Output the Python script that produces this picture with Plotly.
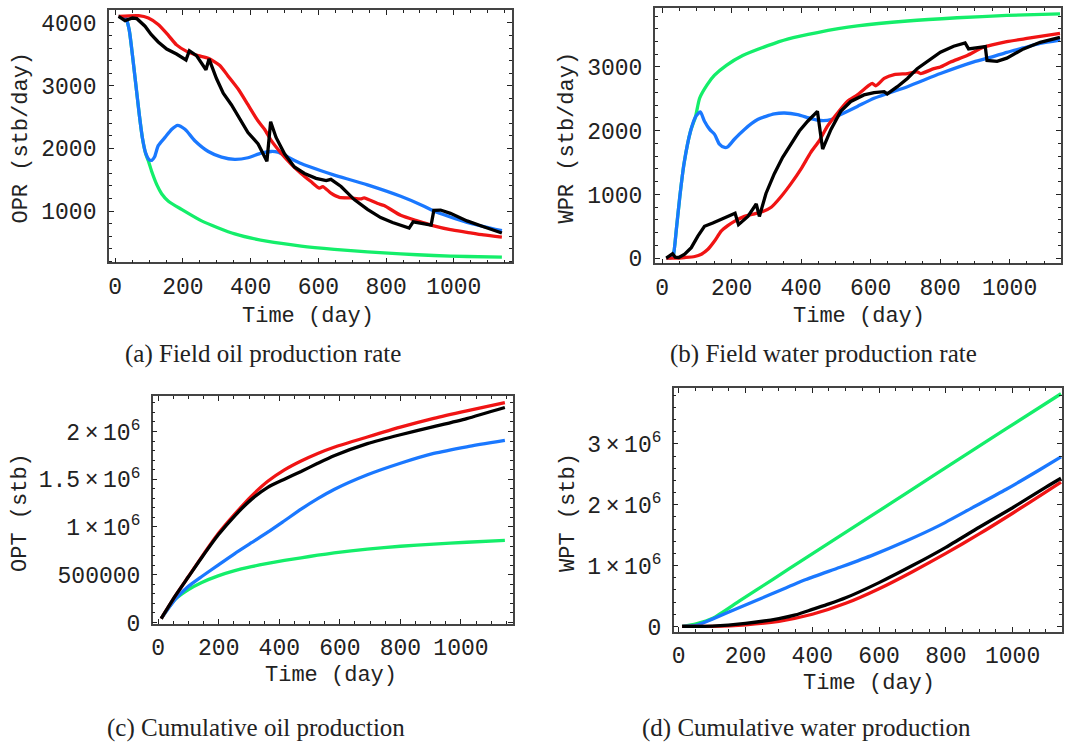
import plotly.graph_objects as go

# ---------------- (a) field oil production rate, stb/day ----------------
opr_t_green = [10, 31, 41, 51, 61, 71, 80, 90, 98, 108, 123, 137, 157, 196, 255, 353, 451, 549, 647, 745, 843, 941, 1039, 1142]
opr_green = [4104, 4078, 3896, 3478, 3009, 2539, 2174, 1913, 1798, 1626, 1417, 1277, 1157, 1026, 843, 635, 515, 442, 390, 348, 317, 291, 275, 264]

opr_t_blue = [10, 31, 41, 51, 61, 71, 80, 90, 100, 108, 116, 127, 147, 167, 184, 206, 235, 275, 314, 353, 392, 431, 461, 480, 510, 549, 608, 647, 745, 843, 912, 941, 1039, 1142]
opr_blue = [4104, 4078, 3896, 3478, 3009, 2539, 2174, 1923, 1819, 1809, 1861, 2043, 2174, 2304, 2367, 2304, 2122, 1950, 1861, 1824, 1850, 1923, 1950, 1939, 1861, 1757, 1642, 1574, 1417, 1235, 1078, 1000, 817, 687]

opr_t_red = [10, 69, 98, 127, 157, 181, 211, 245, 275, 309, 333, 363, 392, 422, 441, 461, 490, 520, 549, 578, 603, 613, 637, 662, 696, 725, 735, 775, 794, 843, 892, 941, 990, 1039, 1088, 1142]
opr_red = [4104, 4115, 4078, 3974, 3802, 3650, 3546, 3478, 3437, 3322, 3155, 2946, 2696, 2435, 2304, 2122, 1923, 1746, 1600, 1470, 1365, 1391, 1287, 1219, 1209, 1193, 1209, 1120, 1089, 932, 843, 765, 703, 661, 619, 583]

opr_t_black = [10, 29, 51, 64, 88, 106, 127, 152, 181, 209, 219, 240, 268, 277, 299, 319, 343, 368, 392, 422, 448, 459, 475, 500, 529, 559, 593, 623, 637, 667, 706, 745, 784, 819, 868, 880, 926, 933, 941, 961, 990, 1039, 1088, 1142]
opr_black = [4104, 4037, 4078, 4068, 3948, 3817, 3697, 3583, 3504, 3410, 3557, 3478, 3254, 3426, 3113, 2878, 2696, 2461, 2252, 2070, 1793, 2424, 2174, 1913, 1704, 1600, 1522, 1485, 1506, 1391, 1183, 1026, 896, 817, 729, 828, 781, 776, 1010, 1016, 963, 843, 750, 650]

# ---------------- (b) field water production rate, stb/day ----------------
wpr_t_green = [12, 27, 32, 41, 51, 63, 82, 96, 108, 129, 151, 185, 232, 304, 361, 447, 562, 706, 849, 992, 1145]
wpr_green = [0, 10, 36, 448, 964, 1479, 1995, 2215, 2510, 2716, 2871, 3026, 3180, 3335, 3438, 3541, 3644, 3722, 3773, 3809, 3835]

wpr_t_blue = [12, 27, 32, 41, 51, 63, 82, 96, 110, 122, 137, 151, 165, 180, 189, 208, 237, 275, 323, 352, 390, 428, 457, 486, 514, 562, 610, 706, 801, 897, 944, 992, 1040, 1088, 1145]
wpr_blue = [0, 10, 36, 448, 964, 1479, 1995, 2215, 2294, 2149, 2021, 1943, 1789, 1737, 1747, 1866, 2021, 2175, 2263, 2278, 2253, 2191, 2160, 2175, 2253, 2381, 2510, 2691, 2897, 3080, 3150, 3230, 3300, 3370, 3423]

wpr_t_red = [12, 36, 65, 94, 113, 132, 151, 170, 189, 208, 237, 266, 290, 314, 342, 371, 400, 428, 452, 476, 505, 533, 562, 596, 605, 615, 639, 668, 706, 734, 744, 782, 801, 830, 878, 925, 992, 1050, 1145]
wpr_red = [0, 0, 10, 26, 62, 139, 268, 423, 510, 577, 655, 696, 732, 799, 964, 1170, 1402, 1660, 1840, 2072, 2278, 2459, 2562, 2716, 2742, 2706, 2820, 2881, 2897, 2923, 2897, 2974, 3000, 3077, 3180, 3309, 3397, 3448, 3526]

wpr_t_black = [12, 30, 38, 48, 65, 84, 103, 122, 146, 170, 189, 210, 220, 247, 271, 280, 299, 323, 347, 371, 395, 419, 447, 462, 486, 514, 543, 581, 610, 639, 648, 677, 706, 734, 772, 801, 839, 872, 882, 930, 935, 964, 992, 1040, 1088, 1145]
wpr_black = [0, 70, 15, 10, 62, 165, 345, 500, 552, 613, 655, 706, 526, 655, 850, 655, 1015, 1325, 1582, 1789, 1995, 2149, 2304, 1711, 2021, 2304, 2459, 2562, 2598, 2613, 2577, 2691, 2820, 2974, 3129, 3232, 3325, 3376, 3284, 3320, 3103, 3088, 3139, 3284, 3387, 3464]

# ---------------- (c) cumulative oil production, stb ----------------
opt_t = [10, 56, 100, 144, 198, 253, 308, 362, 417, 472, 527, 581, 691, 800, 910, 1019, 1145]
opt_red = [41e3, 275e3, 481e3, 687e3, 928e3, 1134e3, 1323e3, 1478e3, 1598e3, 1691e3, 1770e3, 1835e3, 1942e3, 2045e3, 2137e3, 2216e3, 2302e3]
opt_black = [41e3, 275e3, 478e3, 680e3, 915e3, 1117e3, 1289e3, 1415e3, 1500e3, 1581e3, 1667e3, 1746e3, 1873e3, 1966e3, 2050e3, 2135e3, 2251e3]
opt_blue = [41e3, 241e3, 378e3, 481e3, 601e3, 722e3, 835e3, 945e3, 1065e3, 1186e3, 1296e3, 1392e3, 1546e3, 1667e3, 1770e3, 1840e3, 1907e3]
opt_green = [41e3, 241e3, 344e3, 419e3, 488e3, 543e3, 584e3, 619e3, 650e3, 677e3, 704e3, 728e3, 768e3, 798e3, 820e3, 840e3, 859e3]

# ---------------- (d) cumulative water production, stb ----------------
wpt_t_green = [10, 52, 102, 182, 281, 381, 481, 581, 681, 780, 880, 980, 1145]
wpt_green = [0, 43e3, 134e3, 419e3, 770e3, 1126e3, 1479e3, 1832e3, 2185e3, 2539e3, 2892e3, 3245e3, 3823e3]

wpt_t_blue = [10, 52, 102, 182, 281, 381, 481, 581, 681, 780, 880, 980, 1080, 1145]
wpt_blue = [0, 16e3, 124e3, 312e3, 540e3, 770e3, 968e3, 1172e3, 1403e3, 1656e3, 1952e3, 2250e3, 2570e3, 2785e3]

wpt_t_black = [10, 100, 200, 300, 350, 400, 450, 500, 600, 700, 800, 900, 1000, 1100, 1145]
wpt_black = [0, 5e3, 50e3, 130e3, 190e3, 280e3, 370e3, 470e3, 720e3, 1000e3, 1300e3, 1630e3, 1950e3, 2290e3, 2435e3]

wpt_t_red = [10, 100, 200, 300, 400, 500, 600, 700, 800, 900, 1000, 1100, 1145]
wpt_red = [0, 2e3, 27e3, 85e3, 200e3, 380e3, 620e3, 900e3, 1200e3, 1520e3, 1860e3, 2210e3, 2370e3]

# ---------------- tick labels ----------------
THIN = "\u2009"
time_ticks = [0, 200, 400, 600, 800, 1000]
opr_ticks = [1000, 2000, 3000, 4000]
wpr_ticks = [0, 1000, 2000, 3000]
opt_ticks = [0, 500000, 1000000, 1500000, 2000000]
opt_ticktext = ["0", "500000", f"1{THIN}×{THIN}10<sup>6</sup>", f"1.5{THIN}×{THIN}10<sup>6</sup>",
                f"2{THIN}×{THIN}10<sup>6</sup>"]
wpt_ticks = [0, 1000000, 2000000, 3000000]
wpt_ticktext = ["0", f"1{THIN}×{THIN}10<sup>6</sup>", f"2{THIN}×{THIN}10<sup>6</sup>",
                f"3{THIN}×{THIN}10<sup>6</sup>"]

GREEN = "#14ee6a"
BLUE = "#1a78ff"
RED = "#f01414"
BLACK = "#000000"
MONO = "Liberation Mono"
SERIF = "Liberation Serif"
W, H = 1071, 755

fig = go.Figure()


def add(t, v, color, ax, smooth):
    line = dict(color=color, width=3.3)
    if smooth:
        line.update(shape="spline", smoothing=0.6)
    fig.add_trace(go.Scatter(x=t, y=v, mode="lines", line=line,
                             xaxis="x" + ax, yaxis="y" + ax, showlegend=False, hoverinfo="skip"))


# (times, values, colour, smoothed) per panel, drawn green -> blue -> red -> black
panels = [
    ("", [(opr_t_green, opr_green, GREEN, True), (opr_t_blue, opr_blue, BLUE, True),
          (opr_t_red, opr_red, RED, True), (opr_t_black, opr_black, BLACK, False)]),
    ("2", [(wpr_t_green, wpr_green, GREEN, True), (wpr_t_blue, wpr_blue, BLUE, True),
           (wpr_t_red, wpr_red, RED, True), (wpr_t_black, wpr_black, BLACK, False)]),
    ("3", [(opt_t, opt_green, GREEN, True), (opt_t, opt_blue, BLUE, True),
           (opt_t, opt_red, RED, True), (opt_t, opt_black, BLACK, True)]),
    ("4", [(wpt_t_green, wpt_green, GREEN, True), (wpt_t_blue, wpt_blue, BLUE, True),
           (wpt_t_red, wpt_red, RED, True), (wpt_t_black, wpt_black, BLACK, True)]),
]
for ax, series in panels:
    for t, v, c, s in series:
        add(t, v, c, ax, s)


def px_dom(a, b, total, flip=False):
    if flip:
        return [1 - b / total, 1 - a / total]
    return [a / total, b / total]


def axis_style(**kw):
    d = dict(showline=True, linecolor="#444", linewidth=1.5, mirror="allticks",
             ticks="inside", ticklen=5, tickwidth=1.2, tickcolor="#222",
             showgrid=False, zeroline=False, fixedrange=True,
             tickfont=dict(family=MONO, size=23, color="#222"))
    d.update(kw)
    return d


def x_axis(dom, rng, anchor):
    return axis_style(domain=dom, range=rng, anchor=anchor, tickmode="array",
                      tickvals=time_ticks, ticklabelstandoff=2,
                      minor=dict(ticks="inside", ticklen=3, tickwidth=1, tickcolor="#222",
                                 tick0=0, dtick=50))


def y_axis(dom, rng, anchor, vals, text=None, minor_step=200):
    return axis_style(domain=dom, range=rng, anchor=anchor, tickmode="array",
                      tickvals=vals, ticktext=text if text else [str(v) for v in vals],
                      ticklabelstandoff=6,
                      minor=dict(ticks="inside", ticklen=3, tickwidth=1, tickcolor="#222",
                                 tick0=0, dtick=minor_step))


fig.update_layout(
    width=W, height=H, margin=dict(l=0, r=0, t=0, b=0),
    paper_bgcolor="white", plot_bgcolor="white",
    xaxis=x_axis(px_dom(107, 511, W), [-19, 1172], "y"),
    yaxis=y_axis(px_dom(10, 267, H, True), [181, 4209], "x", opr_ticks),
    xaxis2=x_axis(px_dom(654, 1061, W), [-21, 1148], "y2"),
    yaxis2=y_axis(px_dom(8, 268, H, True), [-82, 3928], "x2", wpr_ticks),
    xaxis3=x_axis(px_dom(151, 512, W), [-18, 1172], "y3"),
    yaxis3=y_axis(px_dom(403, 635, H, True), [-17000, 2371000], "x3", opt_ticks, opt_ticktext, 100000),
    xaxis4=x_axis(px_dom(673, 1062, W), [-15, 1148], "y4"),
    yaxis4=y_axis(px_dom(395, 643, H, True), [-90000, 3914000], "x4", wpt_ticks, wpt_ticktext, 200000),
)


def label(x, y, text, font, size, angle=0):
    fig.add_annotation(x=x / W, y=1 - y / H, xref="paper", yref="paper", text=text,
                       showarrow=False, textangle=angle, xanchor="center", yanchor="middle",
                       font=dict(family=font, size=size, color="#222"))


# axis titles
label(307, 322, "Time (day)", MONO, 22)
label(859, 322, "Time (day)", MONO, 22)
label(330, 687, "Time (day)", MONO, 22)
label(869, 695, "Time (day)", MONO, 22)
label(20, 140, "OPR (stb/day)", MONO, 22, -90)
label(567, 140, "WPR (stb/day)", MONO, 22, -90)
label(18, 521, "OPT (stb)", MONO, 22, -90)
label(567, 521, "WPT (stb)", MONO, 22, -90)

# sub-figure captions
label(261, 360, "(a) Field oil production rate", SERIF, 25)
label(823, 360, "(b) Field water production rate", SERIF, 25)
label(254, 741, "(c) Cumulative oil production", SERIF, 25)
label(806, 741, "(d) Cumulative water production", SERIF, 25)

fig.write_html("out.html")
